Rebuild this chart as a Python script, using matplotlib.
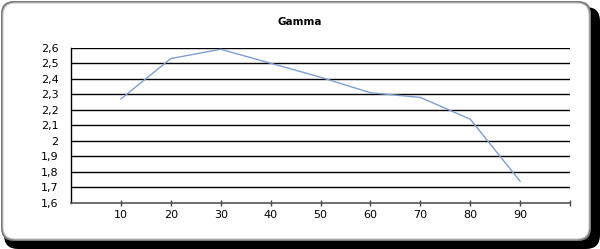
import matplotlib
matplotlib.use("Agg")
import matplotlib.pyplot as plt
from matplotlib.patches import FancyBboxPatch
import numpy as np

# Gamma measured at each stimulus level
levels = [10, 20, 30, 40, 50, 60, 70, 80, 90]
gamma = [2.27, 2.53, 2.59, 2.50, 2.41, 2.31, 2.28, 2.14, 1.74]

y_ticks = [1.6, 1.7, 1.8, 1.9, 2.0, 2.1, 2.2, 2.3, 2.4, 2.5, 2.6]
y_tick_labels = ["1,6", "1,7", "1,8", "1,9", "2", "2,1", "2,2", "2,3", "2,4", "2,5", "2,6"]
x_ticks = [10, 20, 30, 40, 50, 60, 70, 80, 90, 100]
x_tick_labels = ["10", "20", "30", "40", "50", "60", "70", "80", "90", ""]

W, H = 600, 249
fig = plt.figure(figsize=(W / 100, H / 100), dpi=100)
fig.patch.set_facecolor("white")

def px_box(x0, y0, x1, y1, **kw):
    # rounded box given in pixel coordinates (origin top-left)
    r = kw.pop("r", 12)
    return FancyBboxPatch((x0 / W, 1 - y1 / H), (x1 - x0) / W, (y1 - y0) / H,
                          boxstyle=f"round,pad=0,rounding_size={r / W}",
                          transform=fig.transFigure, mutation_aspect=W / H,
                          zorder=-5, **kw)

# drop shadow and chart frame
fig.patches.append(px_box(4, 7, 600, 249, facecolor="black", edgecolor="none", r=14))
fig.patches.append(px_box(1, 1, 591, 241, facecolor="#7a7a7a", edgecolor="none", r=13))
fig.patches.append(px_box(3, 3, 589, 239, facecolor="white", edgecolor="#c8c8c8", linewidth=0.8, r=12))

ax = fig.add_axes([71 / W, 1 - 203 / H, (570 - 71) / W, (203 - 47.7) / H])
ax.set_zorder(5)
ax.set_facecolor("none")
ax.set_xlim(0, 100)
ax.set_ylim(1.6, 2.6)

for v in y_ticks[1:]:
    ax.axhline(v, color="black", linewidth=1.0, zorder=1)

ax.plot(levels, gamma, color="#7f9fcf", linewidth=1.0, zorder=3)

ax.set_yticks(y_ticks)
ax.set_yticklabels(y_tick_labels)
ax.set_yticks([1.6, 1.8, 2.0, 2.2, 2.4], minor=True)
ax.tick_params(axis="y", which="major", length=0, pad=9, labelsize=8, colors="black")
ax.tick_params(axis="y", which="minor", length=4, width=1, color="black")

ax.set_xticks(x_ticks)
ax.set_xticklabels(x_tick_labels)
ax.tick_params(axis="x", which="major", direction="inout", length=4, width=1,
               color="#444444", pad=3, labelsize=8)

for s in ("top", "right"):
    ax.spines[s].set_visible(False)
ax.spines["left"].set_color("black")
ax.spines["left"].set_linewidth(1.0)
ax.spines["bottom"].set_color("#555555")
ax.spines["bottom"].set_linewidth(1.2)

fig.text(300 / W, 1 - 22 / H, "Gamma", ha="center", va="center",
         fontsize=7.5, fontweight="bold", zorder=6)

fig.savefig("out.png", dpi=100, facecolor=fig.get_facecolor())
